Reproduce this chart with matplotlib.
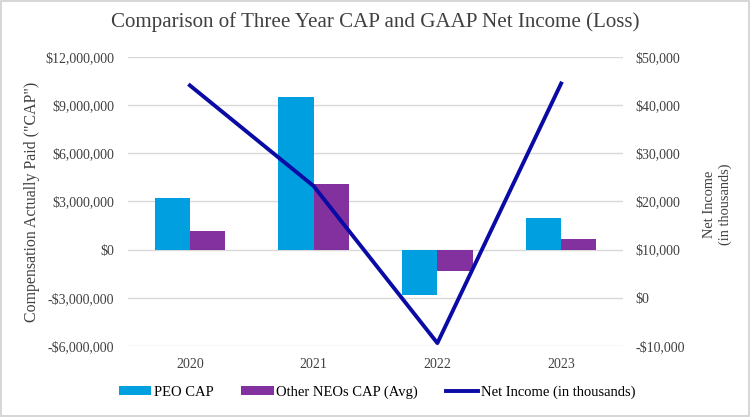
import matplotlib
matplotlib.use('Agg')
import matplotlib.pyplot as plt
import numpy as np
from matplotlib.ticker import FuncFormatter

plt.rcParams['font.family'] = ['Liberation Serif', 'DejaVu Serif']

years = ['2020', '2021', '2022', '2023']
peo_cap = [3240000, 9530000, -2800000, 2000000]
neo_cap = [1180000, 4100000, -1300000, 650000]
net_income = [44100, 23200, -9400, 44500]

c_peo = '#009FDF'
c_neo = '#8431A0'
c_line = '#0A0AA5'
c_grid = '#D9D9D9'
c_text = '#404040'

fig = plt.figure(figsize=(7.5, 4.17), dpi=100)
ax = fig.add_axes([128 / 750, 1 - 346 / 417, 495 / 750, 289 / 417])
ax2 = ax.twinx()

x = np.arange(len(years))
w = 0.285
ax.bar(x - w / 2, peo_cap, w, color=c_peo, label='PEO CAP', zorder=3)
ax.bar(x + w / 2, neo_cap, w, color=c_neo, label='Other NEOs CAP (Avg)', zorder=3)
ax2.plot(x, net_income, color=c_line, lw=2.8, label='Net Income (in thousands)', zorder=4)

ax.set_xlim(-0.5, 3.5)
ax.set_ylim(-6000000, 12000000)
ax.set_yticks(np.arange(-6000000, 12000001, 3000000))
ax2.set_ylim(-10000, 50000)
ax2.set_yticks(np.arange(-10000, 50001, 10000))


def money(v, pos):
    s = '${:,.0f}'.format(abs(v))
    return '-' + s if v < 0 else s


ax.yaxis.set_major_formatter(FuncFormatter(money))
ax2.yaxis.set_major_formatter(FuncFormatter(money))
ax.set_xticks(x)
ax.set_xticklabels(years)

ax.grid(axis='y', color=c_grid, lw=1, zorder=0)
ax.set_axisbelow(True)
for a in (ax, ax2):
    for s in a.spines.values():
        s.set_visible(False)
    a.tick_params(length=0, labelsize=10, labelcolor=c_text)
ax.tick_params(axis='y', pad=10)
ax2.tick_params(axis='y', pad=9)
ax.tick_params(axis='x', pad=9)

ax.set_ylabel('Compensation Actually Paid ("CAP")', fontsize=11.4, color=c_text)
ax.yaxis.set_label_coords(-0.178, 0.5)
ax2.set_ylabel('Net Income\n(in thousands)', fontsize=10.4, color=c_text)
ax2.yaxis.set_label_coords(1.162, 0.49)

fig.suptitle('Comparison of Three Year CAP and GAAP Net Income (Loss)', fontsize=15.1,
             color=c_text, y=0.97)

h1, l1 = ax.get_legend_handles_labels()
h2, l2 = ax2.get_legend_handles_labels()
fig.legend(h1 + h2, l1 + l2, loc='center', bbox_to_anchor=(0.503, 1 - 392 / 417), ncol=3,
           frameon=False, fontsize=10.5, handlelength=2.2, handleheight=0.6,
           columnspacing=1.9, handletextpad=0.2)

fig.patches.append(plt.Rectangle((0.001, 0.002), 0.997, 0.995, transform=fig.transFigure,
                                 fill=False, edgecolor='#D0D0D0', lw=1.2))

fig.savefig('out.png', dpi=100)
